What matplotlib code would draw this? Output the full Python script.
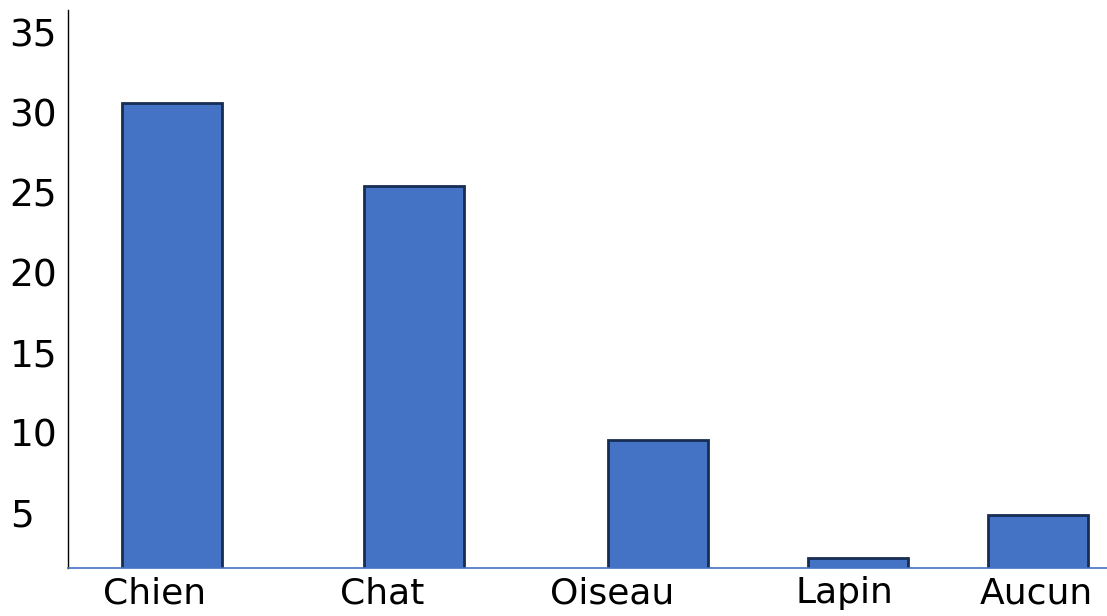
import matplotlib.pyplot as plt

# données
animaux = ['Chien', 'Chat', 'Oiseau', 'Lapin', 'Aucun']
effectifs = [30.6, 25.4, 9.5, 2.1, 4.8]
graduations = [5, 10, 15, 20, 25, 30, 35]

# positions (espacement irrégulier comme sur l'original)
pos_barres = [0, 1.0, 2.008, 2.835, 3.579]
pos_etiquettes = [-0.074, 0.87, 1.818, 2.777, 3.574]

fig = plt.figure(figsize=(11.07, 6.16), dpi=100)
ax = fig.add_axes([68 / 1107, 48 / 616, 1039 / 1107, 558 / 616])

ax.bar(pos_barres, effectifs, width=0.413, color='#4472C4',
       edgecolor='#172D52', linewidth=2.0, zorder=2)

ax.set_xlim(-0.43, 3.864)
ax.set_ylim(1.5, 36.4)

ax.set_yticks(graduations)
ax.set_yticklabels([str(g) for g in graduations], fontsize=27, ha='left')
ax.tick_params(axis='y', length=0, pad=42)

ax.set_xticks(pos_etiquettes)
ax.set_xticklabels(animaux, fontsize=26)
ax.tick_params(axis='x', length=0, pad=6)

for s in ['top', 'right']:
    ax.spines[s].set_visible(False)
ax.spines['left'].set_color('black')
ax.spines['left'].set_linewidth(1.0)
ax.spines['bottom'].set_color('#4472C4')
ax.spines['bottom'].set_linewidth(1.2)
ax.spines['bottom'].set_zorder(3)

fig.savefig('out.png', dpi=100)
